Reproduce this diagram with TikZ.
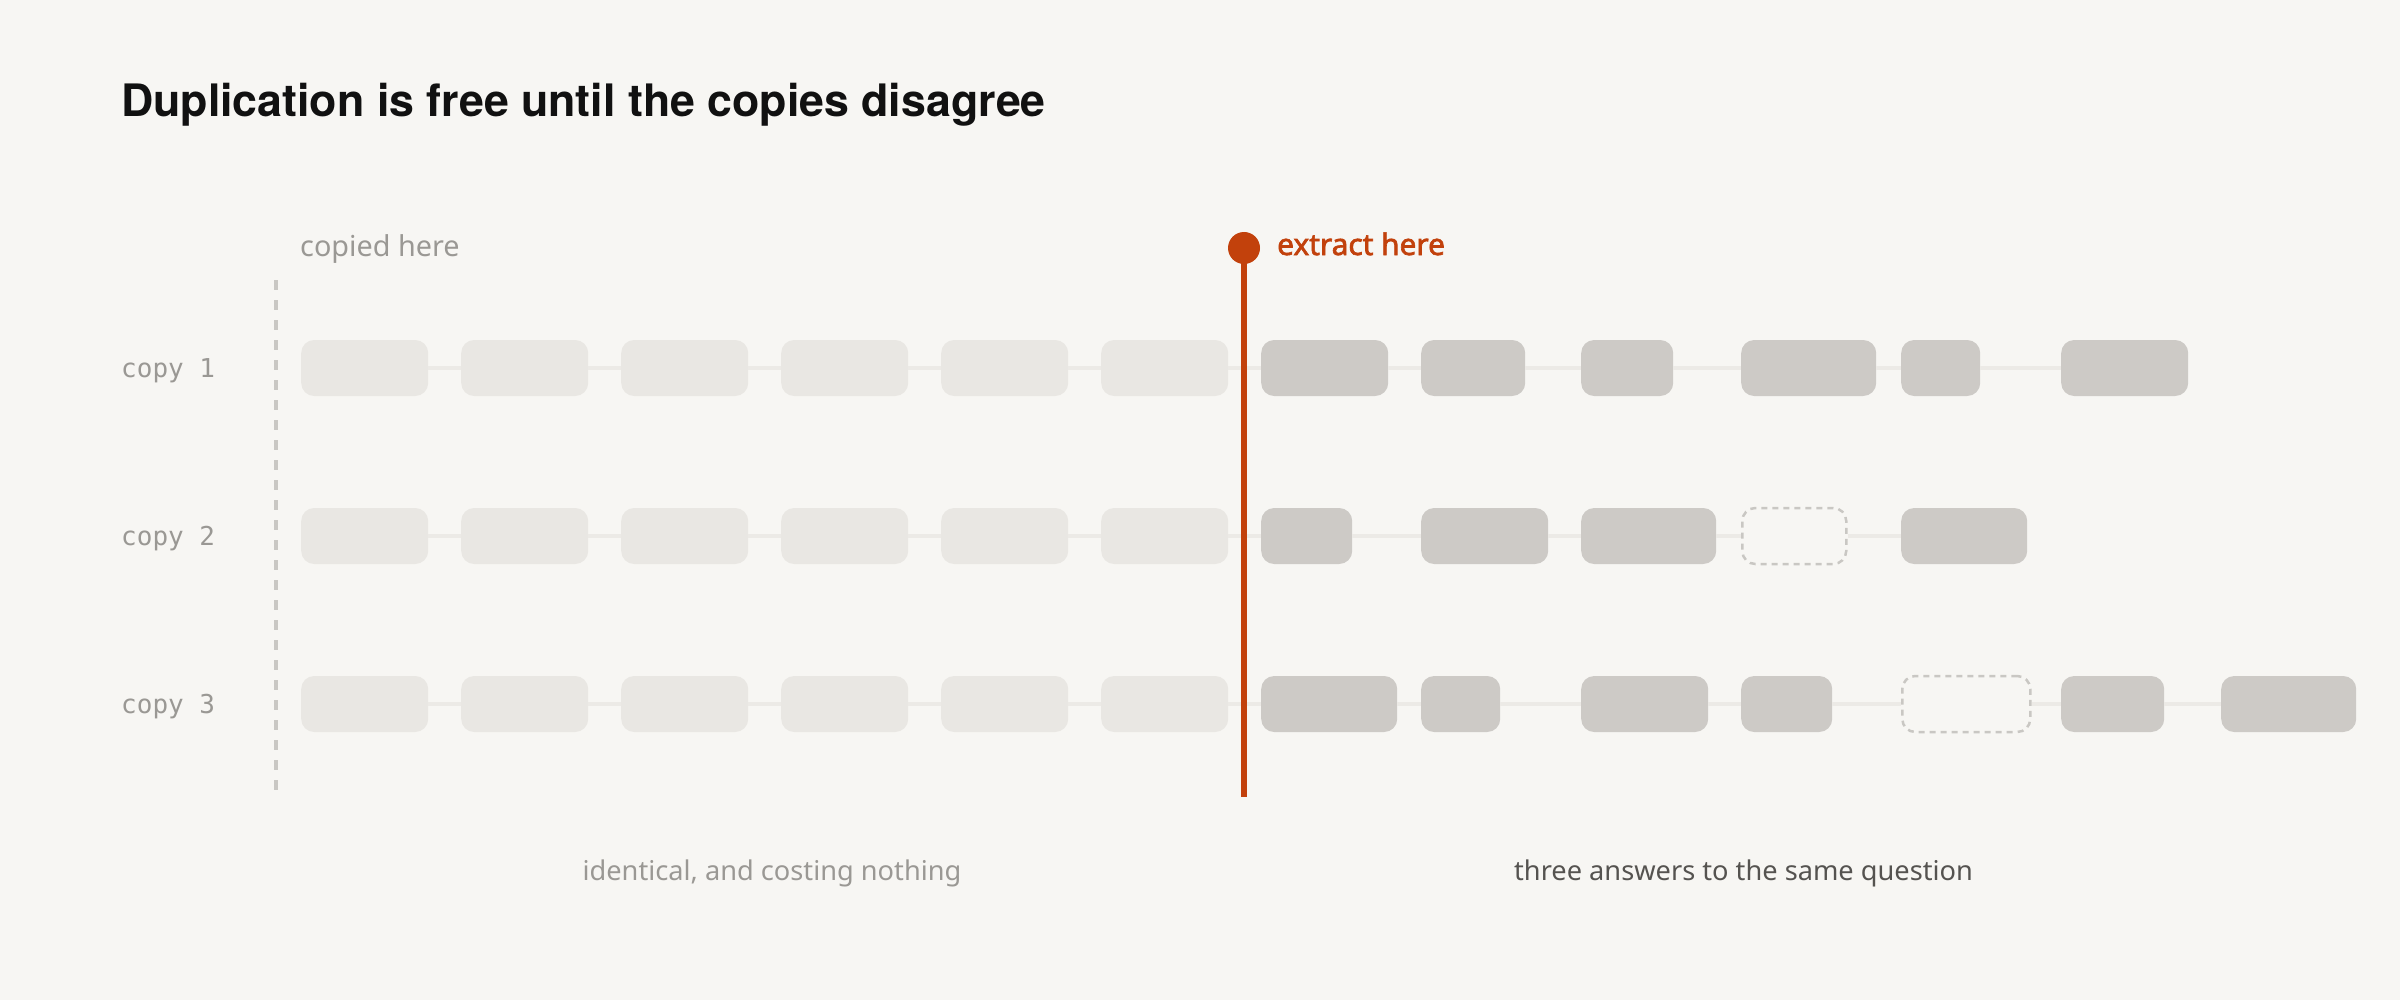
\documentclass[tikz,border=0pt]{standalone}
\usepackage{fontspec}
\setmainfont{Noto Sans}
\newfontfamily\boldishfont{Noto Sans}[FakeBold=2.2]
\newfontfamily\titlefont{TeX Gyre Heros}
\newfontfamily\monofont{DejaVu Sans Mono}
\definecolor{bg}{HTML}{F7F6F3}
\definecolor{lightbox}{HTML}{E9E7E3}
\definecolor{darkbox}{HTML}{CDCAC6}
\definecolor{connc}{HTML}{ECEAE6}
\definecolor{dashc}{HTML}{C9C7C3}
\definecolor{accent}{HTML}{C2410C}
\definecolor{graytext}{HTML}{9A9894}
\definecolor{darktext}{HTML}{555350}
\definecolor{titlec}{HTML}{111111}
\newcommand\boxrow[4]{%
  \foreach \i/\w/\t [count=\k] in {#3} {\node[\t, minimum width=\w] (r#1b\k) at ({301+160*\i},#2) {};}
  \foreach \k in {2,...,#4} {\pgfmathtruncatemacro\p{\k-1}\draw[conn] (r#1b\p.east) -- (r#1b\k.west);}
}
\begin{document}
\begin{tikzpicture}[x=1pt,y=-1pt,
  anybox/.style={rectangle, rounded corners=13pt, minimum height=56, inner sep=0pt, anchor=west},
  lbox/.style={anybox, fill=lightbox},
  dbox/.style={anybox, fill=darkbox},
  gbox/.style={anybox, draw=dashc, line width=2.5pt, dash pattern=on 6pt off 5pt},
  conn/.style={connc, line width=4pt},
  rowlabel/.style={anchor=base west, inner sep=0pt, text=graytext, font=\monofont\fontsize{26}{30}\selectfont},
  caption/.style={anchor=base, inner sep=0pt, font=\fontsize{27.2}{32}\selectfont}
]
\fill[bg] (0,0) rectangle (2400,1000);
\useasboundingbox (0,0) rectangle (2400,1000);

\node[anchor=base west, inner sep=0pt, text=titlec, font=\titlefont\bfseries\fontsize{44.7}{52}\selectfont] (title) at (121,117) {Duplication is free until the copies disagree};

\node[anchor=base west, inner sep=0pt, text=graytext, font=\fontsize{28.8}{34}\selectfont] (copied) at (300,257) {copied here};

\coordinate (dtop) at (276,280);
\coordinate (dbot) at (276,796);
\draw[dashc, line width=3.5pt, dash pattern=on 10pt off 10pt] (dtop) -- (dbot);

\node[rowlabel] (l1) at (121,377) {copy 1};
\node[rowlabel] (l2) at (121,545) {copy 2};
\node[rowlabel] (l3) at (121,713) {copy 3};

\boxrow{1}{368}{0/127/lbox,1/127/lbox,2/127/lbox,3/127/lbox,4/127/lbox,5/127/lbox,6/127/dbox,7/104/dbox,8/92/dbox,9/135/dbox,10/79/dbox,11/127/dbox}{12}
\boxrow{2}{536}{0/127/lbox,1/127/lbox,2/127/lbox,3/127/lbox,4/127/lbox,5/127/lbox,6/91/dbox,7/127/dbox,8/135/dbox,9/104/gbox,10/126/dbox}{11}
\boxrow{3}{704}{0/127/lbox,1/127/lbox,2/127/lbox,3/127/lbox,4/127/lbox,5/127/lbox,6/136/dbox,7/79/dbox,8/127/dbox,9/91/dbox,10/128/gbox,11/103/dbox,12/135/dbox}{13}

\node[circle, fill=accent, minimum size=32pt, inner sep=0pt] (dot) at (1244,248) {};
\coordinate (obot) at (1244,797);
\draw[accent, line width=5.5pt] (dot.center) -- (obot);
\node[anchor=base west, inner sep=0pt, text=accent, font=\boldishfont\fontsize{29.8}{35}\selectfont] (extract) at (1277,255) {extract here};

\node[caption, text=graytext] (capl) at (772,880) {identical, and costing nothing};
\node[caption, text=darktext] (capr) at (1743.5,880) {three answers to the same question};
\end{tikzpicture}
\end{document}
